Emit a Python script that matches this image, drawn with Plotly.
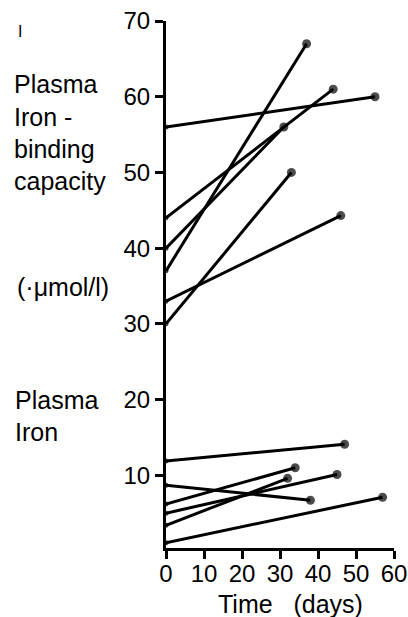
import plotly.graph_objects as go

# Plasma iron-binding capacity (umol/l): start at day 0, end at day N
ibc_start = [56, 37, 44, 40, 30, 33]
ibc_end = [60, 67, 61, 56, 50, 44.3]
ibc_end_days = [55, 37, 44, 31, 33, 46]

# Plasma iron (umol/l)
fe_start = [11.9, 6.2, 8.7, 5.0, 3.4, 1.1]
fe_end = [14.1, 11.0, 6.7, 10.1, 9.6, 7.1]
fe_end_days = [47, 34, 38, 45, 32, 57]

x_ticks = [0, 10, 20, 30, 40, 50, 60]
y_ticks = [10, 20, 30, 40, 50, 60, 70]

TICKFONT = dict(family="Liberation Sans, Arial", size=24, color="black")
LABFONT = dict(family="Liberation Sans, Arial", size=25, color="black")

W, H = 408, 617
L, T, R, B = 166, 21, 14, H - 548

fig = go.Figure()
for s, e, d in list(zip(ibc_start, ibc_end, ibc_end_days)) + list(zip(fe_start, fe_end, fe_end_days)):
    fig.add_trace(go.Scatter(
        x=[0, d], y=[s, e], mode="lines+markers",
        line=dict(color="black", width=3),
        marker=dict(color="black", size=[5, 9], line=dict(width=0)),
        showlegend=False, hoverinfo="skip", cliponaxis=False))

fig.update_layout(
    width=W, height=H,
    margin=dict(l=L, r=R, t=T, b=B),
    paper_bgcolor="white", plot_bgcolor="white",
    showlegend=False,
)
fig.update_xaxes(range=[0, 60], tickvals=x_ticks, ticktext=[str(v) for v in x_ticks],
                 automargin=False, ticklabelstandoff=-6, ticklabeloverflow="allow",
                 showgrid=False, zeroline=False, showline=True, linecolor="black", linewidth=3,
                 ticks="outside", ticklen=8, tickwidth=3, tickcolor="black", tickfont=TICKFONT)
fig.update_yaxes(range=[0.4, 70], tickvals=y_ticks, ticktext=[str(v) for v in y_ticks],
                 automargin=False, ticklabeloverflow="allow",
                 showgrid=False, zeroline=False, showline=True, linecolor="black", linewidth=3,
                 ticks="outside", ticklen=8, tickwidth=3, tickcolor="black", tickfont=TICKFONT)

def label(text, px, py, size=25, anchor="left"):
    fig.add_annotation(text=text, xref="paper", yref="paper", x=0, y=1,
                       xanchor=anchor, yanchor="middle",
                       xshift=px - L, yshift=-(py - T),
                       showarrow=False, align="left",
                       font=dict(LABFONT, size=size))

label("I", 16, 31, size=16)
label("Plasma", 12, 84)
label("Iron -", 12, 117)
label("binding", 12, 149)
label("capacity", 12, 181)
label("(·μmol/l)", 15, 287)
label("Plasma", 13, 400)
label("Iron", 13, 432)
fig.add_annotation(text="Time &nbsp;&nbsp;(days)", xref="paper", yref="paper", x=0, y=0,
                   xanchor="center", yanchor="middle", xshift=290 - L, yshift=-(604 - 548),
                   showarrow=False, font=LABFONT)

fig.write_html("out.html", config={"displayModeBar": False, "staticPlot": True},
               post_script="document.body.style.margin='0';document.body.style.overflow='hidden';")
